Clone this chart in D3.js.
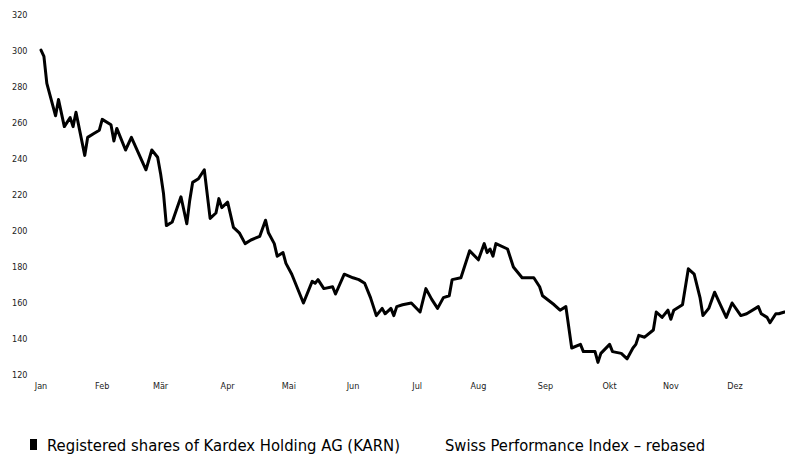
<!DOCTYPE html>
<html>
<head>
<meta charset="utf-8">
<script src="https://cdn.jsdelivr.net/npm/d3@7"></script>
<style>
    body { margin: 0; background: #fff; }
    svg text { font-family: "DejaVu Sans Condensed", "Liberation Sans Narrow", "Noto Sans", sans-serif; fill: #222; }
</style>
</head>
<body>
<div id="chart"></div>
<script>
// trading day of the year (0 = first trading day in January) and closing price in CHF
const tradingDay = [0, 1, 2, 5, 6, 8, 10, 11, 12, 15, 16, 18, 20, 21, 24, 25, 26, 29, 31, 36, 38, 40, 41, 42, 43,
    45, 48, 50, 51, 52, 54, 56, 58, 60, 61, 62, 64, 66, 68, 70, 72, 75, 77, 78, 80, 81, 83, 84, 86, 90, 93, 94,
    95, 97, 100, 101, 104, 107, 109, 111, 113, 115, 117, 118, 120, 121, 122, 124, 127, 130, 132, 134, 136, 138,
    140, 141, 144, 147, 150, 152, 153, 154, 155, 156, 160, 162, 165, 169, 171, 172, 176, 178, 180, 182, 185,
    186, 190, 191, 192, 195, 196, 199, 201, 203, 204, 205, 207, 210, 211, 213, 215, 216, 217, 220, 222, 224,
    226, 227, 229, 231, 233, 235, 237, 240, 242, 246, 247, 249, 250, 252, 253, 255, 259];
const price = [300.5, 297, 282, 264, 273, 258, 263, 258, 266, 242, 252, 254, 256, 262, 259, 250, 257, 245, 252, 234, 245, 241, 232, 221, 203,
    205, 219, 204, 217, 227, 229, 234, 207, 210, 218, 213, 216, 202, 199, 193, 195, 197, 206, 199, 193, 186, 188, 182, 176, 160, 172, 171,
    173, 168, 169, 165, 176, 174, 173, 171, 163, 153, 157, 154, 157, 153, 158, 159, 160, 155, 168, 162, 157, 163,
    164, 173, 174, 189, 184, 193, 188, 190, 186, 193, 190, 180, 174, 174, 169, 164, 159, 156, 158, 135, 137,
    133, 133, 127, 132, 137, 133, 132, 129, 135, 137, 142, 141, 145, 155, 152, 156, 151, 156, 159, 179, 176,
    163, 153, 157, 166, 159, 152, 160, 153, 154, 158, 154, 152, 149, 154, 154, 155, 155];

const monthLabels = ['Jan', 'Feb', 'Mär', 'Apr', 'Mai', 'Jun', 'Jul', 'Aug', 'Sep', 'Okt', 'Nov', 'Dez'];
const monthStartDay = [0, 21, 41, 64, 85, 107, 129, 150, 173, 195, 216, 238];
const yTicks = [120, 140, 160, 180, 200, 220, 240, 260, 280, 300, 320];
const legendLabels = ['Registered shares of Kardex Holding AG (KARN)', 'Swiss Performance Index \u2013 rebased'];

const width = 785;
const height = 456;

const data = tradingDay.map((d, i) => ({day: d, value: price[i]}));

const svg = d3.select('#chart')
    .append('svg')
        .attr('width', width)
        .attr('height', height);

// x scale over trading days
const x = d3.scaleLinear()
    .domain([monthStartDay[0], monthStartDay[11]])
    .range([41, 735]);

const y = d3.scaleLinear()
    .domain([120, 320])
    .range([375, 15]);

// y labels, no axis line
svg.append('g')
    .selectAll('text')
    .data(yTicks)
    .join('text')
        .attr('x', 12)
        .attr('y', d => y(d))
        .attr('dy', '0.35em')
        .style('font-size', '9px')
        .text(d => d);

// month labels
svg.append('g')
    .selectAll('text')
    .data(monthStartDay)
    .join('text')
        .attr('x', d => x(d))
        .attr('y', 389)
        .attr('text-anchor', 'middle')
        .style('font-size', '9px')
        .text((d, i) => monthLabels[i]);

// price line
const line = d3.line()
    .x(d => x(d.day))
    .y(d => y(d.value));
svg.append('path')
    .datum(data)
    .attr('fill', 'none')
    .attr('stroke', '#000')
    .attr('stroke-width', 3)
    .attr('stroke-linejoin', 'round')
    .attr('stroke-linecap', 'round')
    .attr('d', line);

// legend
const legend = svg.append('g').attr('transform', 'translate(0,451)');
legend.append('rect')
    .attr('x', 30)
    .attr('y', -12)
    .attr('width', 7)
    .attr('height', 11)
    .attr('fill', '#000');
const legendX = [47, 445];
const legendW = [353, 260];
legend.selectAll('text.item')
    .data(legendLabels)
    .join('text')
        .attr('class', 'item')
        .attr('x', (d, i) => legendX[i])
        .attr('y', 0)
        .attr('textLength', (d, i) => legendW[i])
        .attr('lengthAdjust', 'spacingAndGlyphs')
        .style('font-size', '15px')
        .style('fill', '#000')
        .text(d => d);
</script>
</body>
</html>
